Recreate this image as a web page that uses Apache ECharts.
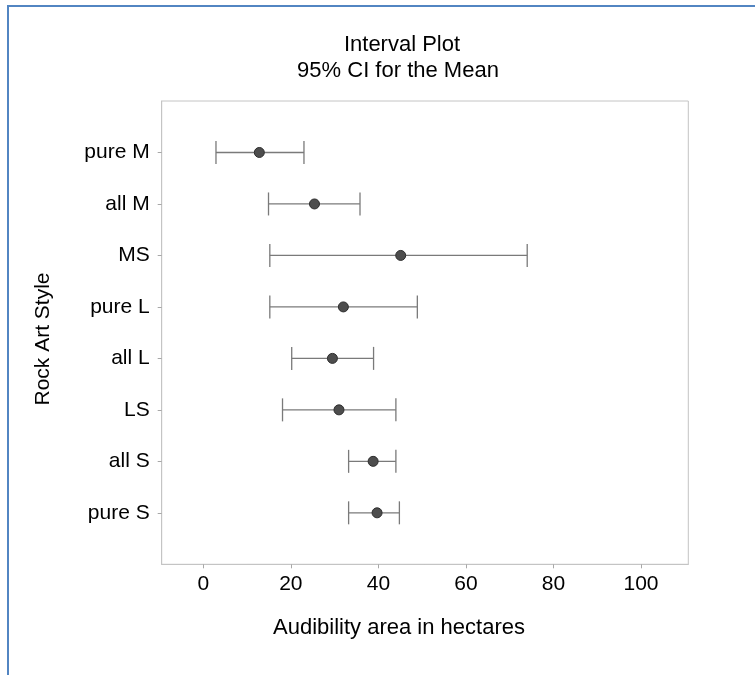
<!DOCTYPE html>
<html>
<head>
<meta charset="utf-8">
<script src="https://cdn.jsdelivr.net/npm/echarts@6/dist/echarts.min.js"></script>
<style>
  html, body { margin: 0; padding: 0; background: #fff; }
  #frame { position: absolute; left: 7px; top: 5px; width: 760px; height: 680px;
           border-left: 2px solid #5285c2; border-top: 2px solid #5285c2; }
  #chart { position: absolute; left: 0; top: 0; width: 755px; height: 675px; }
</style>
</head>
<body>
<div id="frame"></div>
<div id="chart"></div>
<script>
// Data (top to bottom as shown)
const styles = ['pure M', 'all M', 'MS', 'pure L', 'all L', 'LS', 'all S', 'pure S'];
const lower  = [2.9, 14.9, 15.2, 15.2, 20.2, 18.1, 33.2, 33.2];
const means  = [12.8, 25.4, 45.1, 32.0, 29.5, 31.0, 38.8, 39.7];
const upper  = [23.0, 35.8, 74.0, 48.9, 38.9, 44.0, 44.0, 44.8];
const xTicks = [0, 20, 40, 60, 80, 100];

const rows = styles.map((s, i) => [i + 1, lower[i], means[i], upper[i]]);
const yPositions = styles.map((s, i) => i + 1);

const FONT = 'Liberation Sans, Arial, sans-serif';
const chart = echarts.init(document.getElementById('chart'), null, { renderer: 'canvas' });

chart.setOption({
  animation: false,
  backgroundColor: 'transparent',
  grid: { left: 161.7, right: 66.7, top: 101, bottom: 110.7, show: true,
          borderColor: '#c4c4c4', borderWidth: 1, backgroundColor: '#fff' },
  xAxis: {
    type: 'value', min: -9.5, max: 110.8,
    splitLine: { show: false },
    axisLine: { show: true, onZero: false, lineStyle: { color: '#c4c4c4' } },
    axisTick: { show: true, length: 4, lineStyle: { color: '#a8a8a8' }, customValues: xTicks },
    axisLabel: { customValues: xTicks, color: '#000', fontSize: 21, fontFamily: FONT, margin: 9 }
  },
  yAxis: {
    type: 'value', min: 0, max: 9, inverse: true,
    splitLine: { show: false },
    axisLine: { show: true, onZero: false, lineStyle: { color: '#c4c4c4' } },
    axisTick: { show: true, length: 4, lineStyle: { color: '#a8a8a8' }, customValues: yPositions },
    axisLabel: { customValues: yPositions, color: '#000', fontSize: 21, fontFamily: FONT, margin: 12,
                 formatter: v => styles[Math.round(v) - 1] || '' }
  },
  graphic: [
    { type: 'text', x: 402, y: 45, style: { text: 'Interval Plot', fontSize: 22, fontFamily: FONT, fill: '#000', textAlign: 'center', textVerticalAlign: 'middle' } },
    { type: 'text', x: 398, y: 71, style: { text: '95% CI for the Mean', fontSize: 22, fontFamily: FONT, fill: '#000', textAlign: 'center', textVerticalAlign: 'middle' } },
    { type: 'text', x: 399, y: 628, style: { text: 'Audibility area in hectares', fontSize: 22, fontFamily: FONT, fill: '#000', textAlign: 'center', textVerticalAlign: 'middle' } },
    { type: 'text', x: 43, y: 339, rotation: Math.PI / 2, style: { text: 'Rock Art Style', fontSize: 21, fontFamily: FONT, fill: '#000', textAlign: 'center', textVerticalAlign: 'middle' } }
  ],
  series: [
    {
      type: 'custom',
      data: rows,
      encode: { y: 0, x: [1, 3] },
      renderItem: function (params, api) {
        const y = api.value(0);
        const lo = api.coord([api.value(1), y]);
        const hi = api.coord([api.value(3), y]);
        const h = 11.5;
        const st = { stroke: '#7a7a7a', lineWidth: 1.3 };
        return {
          type: 'group',
          children: [
            { type: 'line', shape: { x1: lo[0], y1: lo[1], x2: hi[0], y2: hi[1] }, style: st },
            { type: 'line', shape: { x1: lo[0], y1: lo[1] - h, x2: lo[0], y2: lo[1] + h }, style: st },
            { type: 'line', shape: { x1: hi[0], y1: hi[1] - h, x2: hi[0], y2: hi[1] + h }, style: st }
          ]
        };
      },
      z: 2
    },
    {
      type: 'scatter',
      data: rows.map(r => [r[2], r[0]]),
      symbol: 'circle',
      symbolSize: 10,
      itemStyle: { color: '#4d4d4d', borderColor: '#2e2e2e', borderWidth: 1, opacity: 1 },
      z: 3
    }
  ]
});
</script>
</body>
</html>
